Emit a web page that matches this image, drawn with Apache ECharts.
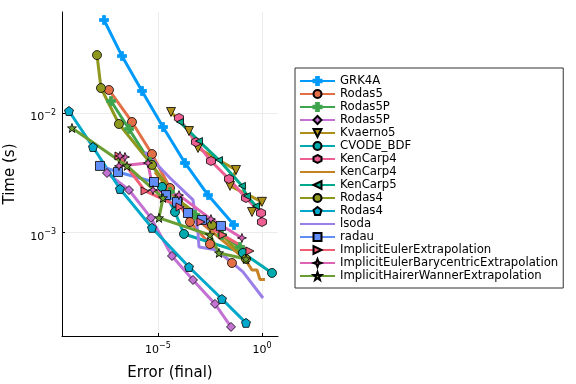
<!DOCTYPE html>
<html><head><meta charset="utf-8">
<script src="https://cdn.jsdelivr.net/npm/echarts@6/dist/echarts.min.js"></script>
<style>html,body{margin:0;padding:0;background:#fff}#c{width:576px;height:384px}</style>
</head><body><div id="c"></div>
<script>
// ---- data: [error (final), time (s)] ----
const seriesNames = ["GRK4A","Rodas5","Rodas5P","Rodas5P","Kvaerno5","CVODE_BDF","KenCarp4","KenCarp4","KenCarp5","Rodas4","Rodas4","lsoda","radau","ImplicitEulerExtrapolation","ImplicitEulerBarycentricExtrapolation","ImplicitHairerWannerExtrapolation"];
const grk4a = [[2.54e-8,0.0602],[1.86e-7,0.0300],[1.70e-6,0.0153],[1.74e-5,7.63e-3],[1.99e-4,3.81e-3],[2.54e-3,2.05e-3],[0.0451,1.15e-3]];
const rodas5 = [[4.41e-8,0.0156],[5.62e-7,8.41e-3],[5.15e-6,4.53e-3],[3.78e-5,2.35e-3],[3.45e-4,1.22e-3],[3.16e-3,7.97e-4],[0.0361,5.53e-4]];
const rodas5pA = [[5.50e-8,0.0126],[4.04e-7,7.34e-3],[4.12e-6,3.88e-3],[3.78e-5,2.18e-3],[6.01e-4,1.40e-3],[0.0119,9.49e-4],[0.0875,7.53e-4]];
const rodas5pB = [[3.53e-8,3.14e-3],[4.04e-7,2.26e-3],[4.60e-6,1.32e-3],[4.71e-5,6.33e-4],[4.82e-4,3.98e-4],[5.50e-3,2.51e-4],[0.0324,1.61e-4]];
const kvaerno5 = [[4.22e-5,0.0102],[3.09e-4,7.06e-3],[8.37e-4,5.09e-3],[0.0562,3.33e-3],[0.0290,2.45e-3],[1.0,1.80e-3],[0.330,1.48e-3]];
const cvodeBdf = [[1.56e-5,2.40e-3],[6.56e-5,1.48e-3],[1.78e-4,9.68e-4],[0.122,6.71e-4],[3.03,4.56e-4]];
const kenCarp4A = [[1.02e-4,9.08e-3],[6.71e-4,5.71e-3],[3.53e-3,3.96e-3],[0.0259,2.80e-3],[0.170,1.94e-3],[0.895,1.45e-3],[1.0,1.22e-3]];
const kenCarp4B = [[7.18e-6,3.20e-3],[1.14e-4,1.76e-3],[1.82e-3,1.13e-3],[0.0232,7.83e-4],[0.152,5.97e-4],[0.330,4.83e-4],[0.575,4.83e-4],[0.802,4.02e-4],[1.39,4.02e-4]];
const kenCarp5 = [[1.14e-4,8.41e-3],[9.35e-4,5.82e-3],[8.57e-3,4.03e-3],[0.109,2.45e-3],[0.190,2.01e-3],[0.515,1.66e-3]];
const rodas4A = [[1.17e-8,0.0306],[1.82e-8,0.0162],[1.33e-7,8.09e-3],[5.15e-6,3.67e-3],[9.16e-5,1.87e-3],[3.94e-3,1.15e-3],[0.170,5.97e-4]];
const rodas4B = [[5.26e-10,0.0104],[7.50e-9,5.19e-3],[1.49e-7,2.31e-3],[5.15e-6,1.09e-3],[3.09e-4,5.12e-4],[0.0119,2.76e-4],[0.170,1.74e-4]];
const lsoda = [[2.37e-6,4.71e-3],[3.78e-5,2.85e-3],[4.82e-4,1.87e-3],[8.37e-4,9.87e-4],[9.35e-4,7.53e-4],[6.87e-3,7.11e-4],[0.122,4.65e-4],[1.12,2.81e-4]];
const radau = [[1.63e-8,3.60e-3],[1.19e-7,3.20e-3],[6.43e-6,2.64e-3],[2.43e-5,2.05e-3],[8.19e-5,1.80e-3],[2.77e-4,1.45e-3],[1.30e-3,1.27e-3],[0.0107,1.13e-3]];
const implEuler = [[1.33e-7,4.36e-3],[2.37e-6,2.22e-3],[1.14e-4,1.63e-3],[1.167e-3,1.22e-3],[0.0133,9.49e-4],[0.265,6.97e-4]];
const implEulerBary = [[2.59e-7,4.28e-3],[1.49e-7,4.36e-3],[1.33e-7,3.60e-3],[3.30e-6,3.81e-3],[5.75e-6,2.26e-3],[1.02e-4,2.05e-3],[3.53e-3,1.29e-3],[0.109,8.96e-4]];
const implHW = [[7.33e-10,7.49e-3],[3.24e-7,3.60e-3],[1.74e-5,1.94e-3],[1.117e-5,1.32e-3],[3.16e-3,9.49e-4],[8.57e-3,6.71e-4],[0.170,5.97e-4]];
const xTicks = [1e-5, 1];
const yTicks = [1e-3, 1e-2];

const seriesData = [grk4a,rodas5,rodas5pA,rodas5pB,kvaerno5,cvodeBdf,kenCarp4A,kenCarp4B,kenCarp5,rodas4A,rodas4B,lsoda,radau,implEuler,implEulerBary,implHW];

// ---- styles ----
const colors = ["#009AFA","#E36F47","#3EA44E","#C371D2","#AC8E18","#00AAAE","#ED5E93","#C68225","#00A98D","#8E971E","#00A8CB","#9B7FE9","#618DF6","#F05F73","#DD64B5","#6B9E32"];
const P = {
  cross: 'path://M3,0H6V3H9V6H6V9H3V6H0V3H3Z',
  dtri: 'path://M0,0L10,0L5,9Z',
  ltri: 'path://M0,5L9,0L9,10Z',
  rtri: 'path://M9,5L0,0L0,10Z',
  hex: 'path://M5,0L9.33,2.5L9.33,7.5L5,10L0.67,7.5L0.67,2.5Z',
  pent: 'path://M5,0L9.76,3.45L7.94,9.05L2.06,9.05L0.24,3.45Z',
  star4: 'path://M5,0L6.4,3.6L10,5L6.4,6.4L5,10L3.6,6.4L0,5L3.6,3.6Z',
  star5: 'path://M5,0L6.18,3.38L9.76,3.45L6.9,5.62L7.94,9.05L5,7L2.06,9.05L3.1,5.62L0.24,3.45L3.82,3.38Z'
};
const symbols = [P.cross,'circle',P.cross,'diamond',P.dtri,'circle',P.hex,'none',P.ltri,'circle',P.pent,'none','rect',P.rtri,P.star4,P.star5];
const sizes = [9,9,9,9,9,9,9,0,7,9,9,0,9,8,9,9];

// unique internal ids so duplicated labels each get a legend row
const ids = seriesNames.map((n,i)=> n + '#' + i);

const series = seriesData.map((d,i)=>({
  name: ids[i], type:'line', data:d,
  symbol: symbols[i], symbolSize: sizes[i], showSymbol: symbols[i]!=='none',
  lineStyle:{color:colors[i], width:3},
  itemStyle:{color:colors[i], borderColor:(symbols[i]===P.cross)?colors[i]:'#000', borderWidth:0.8},
  emphasis:{disabled:true}, animation:false
}));

function fmt(v){
  const e = Math.round(Math.log10(v));
  return '{b|10}{sup|' + (e<0 ? '\u2212'+(-e) : e) + '}';
}

const chart = echarts.init(document.getElementById('c'), null, {renderer:'canvas'});
chart.setOption({
  animation:false,
  backgroundColor:'#fff',
  textStyle:{fontFamily:'DejaVu Sans'},
  grid:{left:62, top:12, width:216, height:324, containLabel:false, outerBoundsMode:'none'},
  xAxis:{
    type:'log', min:2.43e-10, max:5.89,
    name:'Error (final)', nameLocation:'middle', nameGap:30,
    nameTextStyle:{fontSize:15, color:'#000', fontFamily:'DejaVu Sans'},
    axisLine:{show:true, onZero:false, lineStyle:{color:'#000', width:1}},
    axisTick:{show:true, inside:true, length:3, customValues:xTicks, lineStyle:{color:'#000'}},
    axisLabel:{customValues:xTicks, formatter:fmt, color:'#000', margin:6,
      rich:{b:{fontSize:11, color:'#000', verticalAlign:'bottom'}, sup:{fontSize:8, color:'#000', padding:[0,0,6,0], verticalAlign:'bottom'}}},
    splitLine:{show:true, lineStyle:{color:'#ececec', width:1}},
    minorTick:{show:false}
  },
  yAxis:{
    type:'log', min:1.35e-4, max:0.0703,
    name:'Time (s)', nameLocation:'middle', nameGap:44,
    nameTextStyle:{fontSize:15, color:'#000', fontFamily:'DejaVu Sans'},
    axisLine:{show:true, onZero:false, lineStyle:{color:'#000', width:1}},
    axisTick:{show:true, inside:true, length:3, customValues:yTicks, lineStyle:{color:'#000'}},
    axisLabel:{customValues:yTicks, formatter:fmt, color:'#000', margin:6, padding:[6,0,0,0],
      rich:{b:{fontSize:11, color:'#000', verticalAlign:'bottom'}, sup:{fontSize:8, color:'#000', padding:[0,0,6,0], verticalAlign:'bottom'}}},
    splitLine:{show:true, lineStyle:{color:'#ececec', width:1}},
    minorTick:{show:false}
  },
  legend:{
    orient:'vertical', left:295, top:68,
    padding:[7,5,6,4], itemWidth:35, itemHeight:10, itemGap:1,
    borderColor:'#333', borderWidth:1, backgroundColor:'#fff',
    textStyle:{fontSize:11.7, color:'#000', fontFamily:'DejaVu Sans'},
    formatter: n => n.replace(/#\d+$/,''),
    data: ids.map((n,i)=> symbols[i]==='none' ? {name:n, itemStyle:{opacity:0}} : {name:n}),
    selectedMode:false
  },
  series: series
});
</script></body></html>
